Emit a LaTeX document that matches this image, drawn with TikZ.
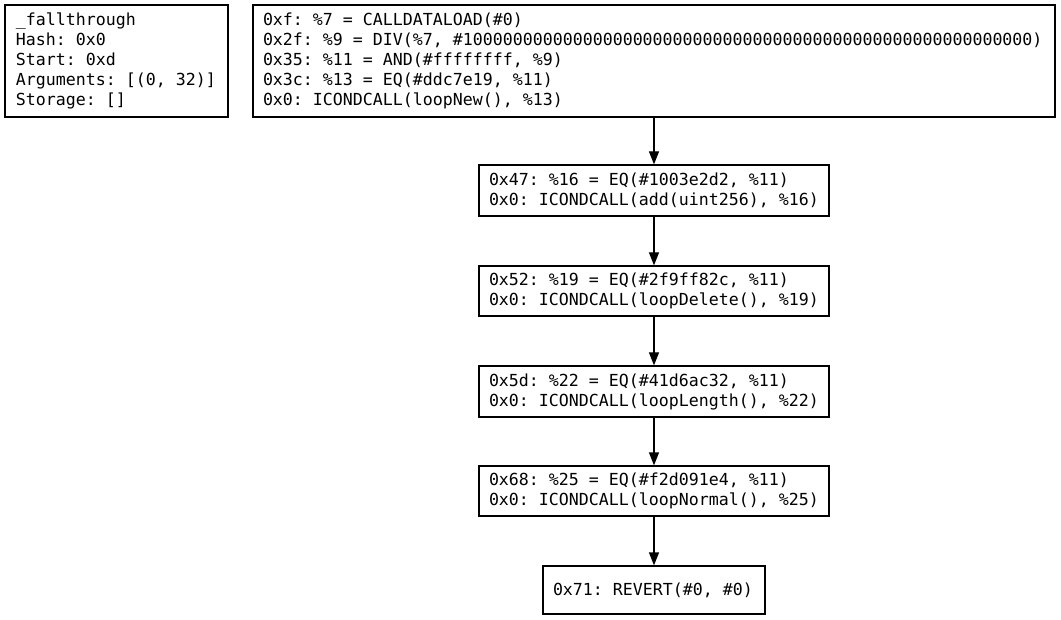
\documentclass[tikz,border=0pt]{standalone}
\usepackage{fontspec}
\setmonofont{DejaVu Sans Mono}
\usetikzlibrary{arrows.meta}
% fixed-pitch spaces: align=left would otherwise narrow them
\newcommand{\fixsp}{\spaceskip=\fontcharwd\font`0\relax\xspaceskip=\spaceskip}
\begin{document}
\begin{tikzpicture}[x=1pt,y=-1pt,
  blk/.style={draw=black,line width=1.2pt,rectangle,inner sep=0pt,
    font=\ttfamily\fontsize{16.6}{20}\selectfont,align=left},
  flow/.style={draw=black,line width=1.2pt,-{Triangle[length=13pt,width=10pt]}}]
\useasboundingbox (0,0) rectangle (1061,620);
% function summary
\node[blk,minimum width=223pt,minimum height=112pt,text width=201pt] (info) at (116.5,61)
  {\fixsp\_fallthrough\\Hash: 0x0\\Start: 0xd\\Arguments: [(0, 32)]\\Storage: []};
% basic blocks of the dispatcher
\node[blk,minimum width=802pt,minimum height=112pt,text width=782pt] (b0) at (654,61)
  {\fixsp 0xf: \%7 = CALLDATALOAD(\#0)\\0x2f: \%9 = DIV(\%7, \#100000000000000000000000000000000000000000000000000000000)\\0x35: \%11 = AND(\#ffffffff, \%9)\\0x3c: \%13 = EQ(\#ddc7e19, \%11)\\0x0: ICONDCALL(loopNew(), \%13)};
\node[blk,minimum width=350pt,minimum height=51pt,text width=330pt] (b1) at (654,190.5)
  {\fixsp 0x47: \%16 = EQ(\#1003e2d2, \%11)\\0x0: ICONDCALL(add(uint256), \%16)};
\node[blk,minimum width=350pt,minimum height=50pt,text width=330pt] (b2) at (654,291)
  {\fixsp 0x52: \%19 = EQ(\#2f9ff82c, \%11)\\0x0: ICONDCALL(loopDelete(), \%19)};
\node[blk,minimum width=350pt,minimum height=51pt,text width=330pt] (b3) at (654,391.5)
  {\fixsp 0x5d: \%22 = EQ(\#41d6ac32, \%11)\\0x0: ICONDCALL(loopLength(), \%22)};
\node[blk,minimum width=350pt,minimum height=50pt,text width=330pt] (b4) at (654,491)
  {\fixsp 0x68: \%25 = EQ(\#f2d091e4, \%11)\\0x0: ICONDCALL(loopNormal(), \%25)};
\node[blk,minimum width=222pt,minimum height=48pt,text width=202pt] (b5) at (654,590)
  {\fixsp 0x71: REVERT(\#0, \#0)};
% control flow
\draw[flow] (b0.south) -- (b1.north);
\draw[flow] (b1.south) -- (b2.north);
\draw[flow] (b2.south) -- (b3.north);
\draw[flow] (b3.south) -- (b4.north);
\draw[flow] (b4.south) -- (b5.north);
\end{tikzpicture}
\end{document}
